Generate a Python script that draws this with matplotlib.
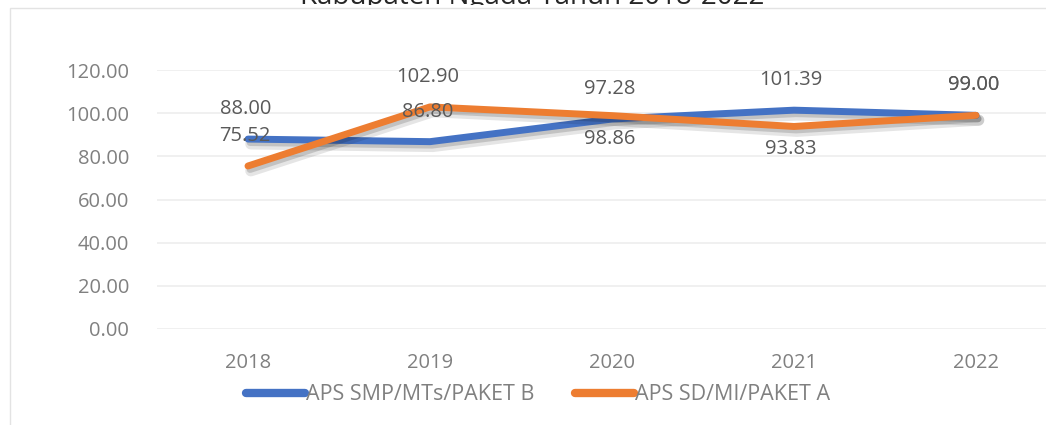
import matplotlib
matplotlib.use("Agg")
import matplotlib.pyplot as plt
import matplotlib.patheffects as pe
from matplotlib.patches import Rectangle
from matplotlib.transforms import Bbox, TransformedBbox

years = ["2018", "2019", "2020", "2021", "2022"]
smp_values = [88.00, 86.80, 97.28, 101.39, 99.00]
sd_values = [75.52, 102.90, 98.86, 93.83, 99.00]
smp_label = "APS SMP/MTs/PAKET B"
sd_label = "APS SD/MI/PAKET A"
title = "Kabupaten Ngada Tahun 2018-2022"
yticks = [0, 20, 40, 60, 80, 100, 120]

# label placement (style)
smp_pos = ["above", "above", "above", "above", "above"]
sd_pos = ["above", "above", "below", "below", "above"]

plt.rcParams['font.family'] = ['Open Sans', 'DejaVu Sans']

W, H = 1046, 425
fig = plt.figure(figsize=(W / 100, H / 100), dpi=100)
fig.patch.set_facecolor("white")

# chart area border
fig.patches.append(Rectangle((10 / W, -0.1), 1.2, (H - 8) / H + 0.1,
                             transform=fig.transFigure, fill=False,
                             edgecolor="#e3e3e3", linewidth=1.0))

left, right = 157, 1067
bottom, top = 329, 70
ax = fig.add_axes([left / W, (H - bottom) / H, (right - left) / W, (bottom - top) / H])
ax.set_facecolor("none")

x = list(range(len(years)))
blue = "#4472C4"
orange = "#ED7D31"
shadow = [pe.SimpleLineShadow(offset=(2, -3.5), shadow_color="black", alpha=0.10, linewidth=8),
          pe.SimpleLineShadow(offset=(1.5, -2.5), shadow_color="black", alpha=0.15),
          pe.Normal()]

ax.plot(x, smp_values, color=blue, lw=5, solid_capstyle="round",
        solid_joinstyle="round", label=smp_label, path_effects=shadow, zorder=3)
ax.plot(x, sd_values, color=orange, lw=5, solid_capstyle="round",
        solid_joinstyle="round", label=sd_label, path_effects=shadow, zorder=4)

def add_labels(vals, pos):
    for xi, v, p in zip(x, vals, pos):
        dy = 21.5 if p == "above" else -16.5
        ax.annotate(f"{v:.2f}", (xi, v), xytext=(-2, dy), textcoords="offset points",
                    ha="center", va="center", fontsize=14.5, color="#595959", zorder=6)

add_labels(smp_values, smp_pos)
add_labels(sd_values, sd_pos)

ax.set_xlim(-0.5, len(years) - 0.5)
ax.set_ylim(0, 120)
ax.set_yticks(yticks)
ax.set_yticklabels([f"{t:.2f}" for t in yticks])
ax.set_xticks(x)
ax.set_xticklabels(years)
ax.tick_params(axis="both", length=0, labelsize=14.5, colors="#808080")
ax.tick_params(axis="y", pad=20)
ax.tick_params(axis="x", pad=17)
ax.grid(axis="y", color="#eeeeee", linewidth=1.2, zorder=0)
ax.set_axisbelow(True)
for s in ax.spines.values():
    s.set_visible(False)

leg = fig.legend(loc="center", bbox_to_anchor=(538 / W, (H - 395) / H), ncol=2,
                 frameon=False, fontsize=15.5, labelcolor="#808080",
                 handlelength=2.75, handletextpad=0.05, columnspacing=1.9)
for h in leg.legend_handles:
    h.set_linewidth(6)
    h.set_path_effects([])
    h.set_solid_capstyle("round")

t = fig.text(532 / W, (H - 4) / H, title, ha="center", va="baseline",
             fontsize=20, color="#262626")
t.set_clip_box(TransformedBbox(Bbox([[0, (H - 5) / H], [1, 1]]), fig.transFigure))
t.set_clip_on(True)

fig.savefig("out.png", dpi=100)
